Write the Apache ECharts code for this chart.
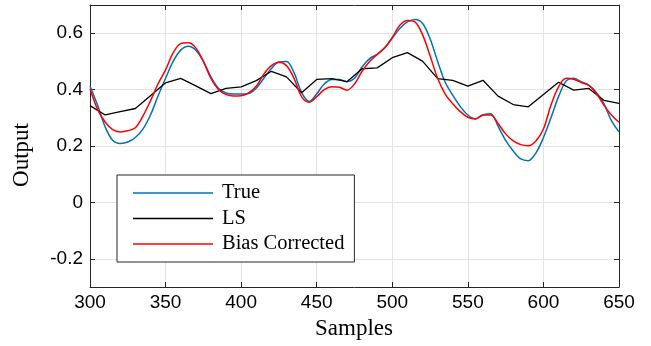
<!DOCTYPE html>
<html>
<head>
<meta charset="utf-8">
<script src="https://cdn.jsdelivr.net/npm/echarts@6/dist/echarts.min.js"></script>
<style>
html,body{margin:0;padding:0;background:#fff;}
#chart{width:651px;height:346px;}
</style>
</head>
<body>
<div id="chart"></div>
<script>
const samples5 = [300,305,310,315,320,325,330,335,340,345,350,355,360,365,370,375,380,385,390,395,400,405,410,415,420,425,430,435,440,445,450,455,460,465,470,475,480,485,490,495,500,505,510,515,520,525,530,535,540,545,550,555,560,565,570,575,580,585,590,595,600,605,610,615,620,625,630,635,640,645,650];
const trueVals = [0.413,0.345,0.268,0.22,0.209,0.214,0.23,0.26,0.31,0.377,0.44,0.50,0.54,0.554,0.54,0.50,0.445,0.405,0.388,0.384,0.384,0.386,0.405,0.44,0.475,0.498,0.50,0.46,0.39,0.358,0.385,0.42,0.436,0.436,0.428,0.44,0.48,0.51,0.525,0.548,0.582,0.617,0.64,0.649,0.635,0.58,0.50,0.426,0.38,0.34,0.31,0.296,0.31,0.314,0.27,0.22,0.182,0.154,0.148,0.175,0.23,0.30,0.375,0.43,0.44,0.428,0.416,0.39,0.35,0.29,0.25];
const biasVals = [0.403,0.33,0.285,0.258,0.25,0.254,0.265,0.306,0.36,0.42,0.47,0.53,0.563,0.566,0.548,0.50,0.44,0.40,0.382,0.377,0.378,0.388,0.412,0.455,0.485,0.497,0.485,0.44,0.375,0.355,0.375,0.40,0.41,0.408,0.398,0.42,0.465,0.50,0.525,0.548,0.585,0.628,0.645,0.64,0.595,0.52,0.44,0.384,0.35,0.322,0.302,0.296,0.31,0.31,0.28,0.243,0.218,0.205,0.201,0.218,0.26,0.345,0.41,0.44,0.437,0.425,0.415,0.387,0.345,0.31,0.284];
const samples10 = [300,310,320,330,340,350,360,370,380,390,400,410,420,430,440,450,460,470,480,490,500,510,520,530,540,550,560,570,580,590,600,610,620,630,640,650];
const lsVals = [0.343,0.31,0.322,0.333,0.378,0.424,0.44,0.413,0.386,0.404,0.41,0.432,0.465,0.445,0.389,0.436,0.439,0.428,0.474,0.477,0.513,0.531,0.501,0.439,0.433,0.412,0.433,0.377,0.347,0.339,0.383,0.426,0.398,0.404,0.362,0.351];
const xTicks = [300,350,400,450,500,550,600,650];
const yTicks = [-0.2,0,0.2,0.4,0.6];
const seriesNames = ['True','LS','Bias Corrected'];

const zip = (xs, ys) => xs.map((x,i)=>[x, ys[i]]);
const axisColor = '#262626';
const gridColor = '#e3e3e3';
const tickFont = {color:'#000', fontFamily:'Liberation Sans, Arial, sans-serif', fontSize:19};

const chart = echarts.init(document.getElementById('chart'), null, {renderer:'canvas'});
const baseX = {
  type:'value', min:300, max:650, interval:50,
  axisLine:{show:true, onZero:false, lineStyle:{color:axisColor, width:1}},
  axisTick:{show:true, inside:true, length:5, lineStyle:{color:axisColor}},
};
const baseY = {
  type:'value', min:-0.3, max:0.7,
  axisLine:{show:true, onZero:false, lineStyle:{color:axisColor, width:1}},
  axisTick:{show:true, inside:true, length:5, customValues:yTicks, lineStyle:{color:axisColor}},
};
chart.setOption({
  animation:false,
  backgroundColor:'#fff',
  grid:{left:90, right:32, top:5, bottom:59, containLabel:false},
  xAxis:[
    Object.assign({}, baseX, {position:'bottom',
      axisLabel:Object.assign({margin:6, customValues:xTicks}, tickFont),
      splitLine:{show:true, lineStyle:{color:gridColor, width:1}}}),
    Object.assign({}, baseX, {position:'top', axisLabel:{show:false}, splitLine:{show:false}})
  ],
  yAxis:[
    Object.assign({}, baseY, {position:'left',
      axisLabel:Object.assign({margin:7, customValues:yTicks}, tickFont),
      splitLine:{show:true, lineStyle:{color:gridColor, width:1}}}),
    Object.assign({}, baseY, {position:'right', axisLabel:{show:false}, splitLine:{show:false}})
  ],
  legend:{
    orient:'vertical', left:117, top:175,
    data:seriesNames.map(n=>({name:n, icon:'rect'})),
    itemWidth:80, itemHeight:1.5, itemGap:4.5,
    padding:[7.5,10,7.5,16],
    borderColor:'#262626', borderWidth:1, backgroundColor:'#fff',
    textStyle:{color:'#000', fontFamily:'Liberation Serif, Times New Roman, serif', fontSize:20.5, lineHeight:20, height:20, padding:[0,0,0,4]}
  },
  graphic:[
    {type:'text', style:{text:'Samples', fontFamily:'Liberation Serif, Times New Roman, serif', fontSize:23, fill:'#000', align:'center', verticalAlign:'middle'}, position:[354,329]},
    {type:'text', rotation:Math.PI/2, style:{text:'Output', fontFamily:'Liberation Serif, Times New Roman, serif', fontSize:23, fill:'#000', align:'center', verticalAlign:'middle'}, position:[22,155]}
  ],
  series:[
    {name:'True', type:'line', data:zip(samples5,trueVals), symbol:'none', smooth:0.35, lineStyle:{color:'#0072BD', width:1.5}, itemStyle:{color:'#0072BD'}},
    {name:'LS', type:'line', data:zip(samples10,lsVals), symbol:'none', smooth:false, lineStyle:{color:'#000', width:1.3}, itemStyle:{color:'#000'}},
    {name:'Bias Corrected', type:'line', data:zip(samples5,biasVals), symbol:'none', smooth:0.35, lineStyle:{color:'#FF0000', width:1.5}, itemStyle:{color:'#FF0000'}}
  ]
});
</script>
</body>
</html>
